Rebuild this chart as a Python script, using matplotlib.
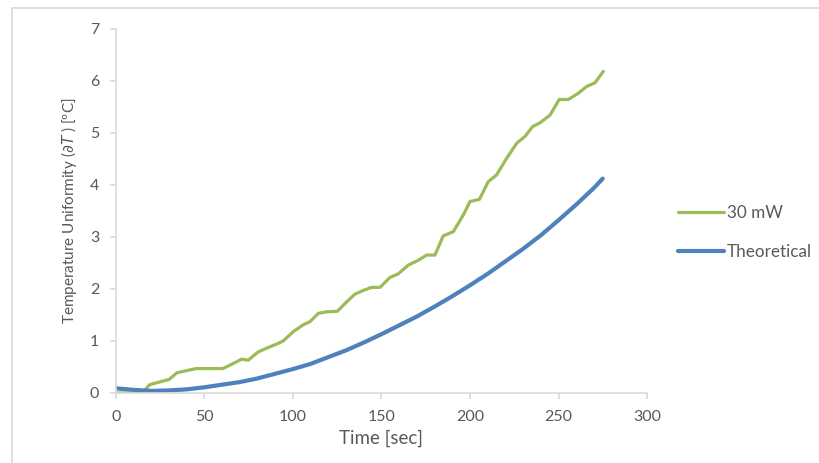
import matplotlib.pyplot as plt
from matplotlib.patches import Rectangle

### Data
time_30mw = [0, 15, 19, 30, 34.5, 40, 45.5, 60.5, 67, 71, 74.7, 80.4, 85, 90.8,
             94.5, 100.2, 105.8, 109.6, 114.3, 119, 125, 130.3, 135, 139.7, 144.4,
             149.2, 154.8, 159.5, 165.2, 170.8, 175.5, 180.2, 184.9, 190.6, 196.2,
             200, 205.3, 210.3, 215, 220.7, 226.4, 231.1, 235.4, 239.5, 245.2,
             250.4, 255.5, 261.2, 265.9, 270.6, 275.3]
dT_30mw = [0.0, 0.0, 0.16, 0.26, 0.39, 0.43, 0.47, 0.47, 0.58, 0.65, 0.63, 0.79,
           0.86, 0.94, 1.0, 1.18, 1.31, 1.37, 1.53, 1.56, 1.57, 1.75, 1.90, 1.97,
           2.03, 2.03, 2.22, 2.29, 2.46, 2.55, 2.65, 2.65, 3.02, 3.10, 3.42, 3.68,
           3.72, 4.06, 4.19, 4.51, 4.80, 4.93, 5.12, 5.19, 5.34, 5.64, 5.64, 5.76,
           5.89, 5.96, 6.18]

time_theo = [0, 10, 20, 30, 40, 50, 60, 70, 80, 90, 100, 110, 120, 130, 140, 150,
             160, 170, 180, 190, 200, 210, 220, 230, 240, 250, 260, 270, 275]
dT_theo = [0.09, 0.06, 0.04, 0.05, 0.07, 0.11, 0.16, 0.21, 0.28, 0.37, 0.46, 0.56,
           0.69, 0.82, 0.97, 1.13, 1.30, 1.47, 1.66, 1.86, 2.07, 2.29, 2.53, 2.77,
           3.03, 3.32, 3.62, 3.94, 4.12]

xticks = [0, 50, 100, 150, 200, 250, 300]
yticks = [0, 1, 2, 3, 4, 5, 6, 7]

grey_axis = '#d9d9d9'
grey_text = '#595959'

plt.rcParams['font.family'] = ['Lato', 'DejaVu Sans']

fig = plt.figure(figsize=(8.19, 4.63), dpi=100)
ax = fig.add_axes([0.1416, 0.1512, 0.6484, 0.7868])

### outer chart border (Excel style)
fig.patches.append(Rectangle((12 / 819, -0.05), 1.0, (463 - 8) / 463 + 0.05,
                             transform=fig.transFigure, fill=False,
                             edgecolor=grey_axis, linewidth=1.2))

ax.plot(time_30mw, dT_30mw, color='#9BBB59', linewidth=2.3, label='30 mW',
        solid_capstyle='round', solid_joinstyle='round')
ax.plot(time_theo, dT_theo, color='#4F81BD', linewidth=3.0, label='Theoretical',
        solid_capstyle='round', solid_joinstyle='round')

ax.set_xlim(0, 300)
ax.set_ylim(0, 7)
ax.set_xticks(xticks)
ax.set_yticks(yticks)

for s in ['top', 'right']:
    ax.spines[s].set_visible(False)
for s in ['left', 'bottom']:
    ax.spines[s].set_color(grey_axis)
    ax.spines[s].set_linewidth(1.2)
ax.tick_params(colors=grey_axis, labelcolor=grey_text, labelsize=11.5,
               length=4, width=1.2)
ax.tick_params(axis='x', pad=8)
ax.tick_params(axis='y', pad=8)

ax.set_xlabel('Time [sec]', color=grey_text, fontsize=13.5, labelpad=4)
ax.set_ylabel(r'Temperature Uniformity ($\partial T$ ) [ºC]', color=grey_text,
              fontsize=11, labelpad=8)

leg = ax.legend(loc='center left', bbox_to_anchor=(1.03, 0.44), frameon=False,
                fontsize=12.3, handlelength=2.7, handletextpad=0.15,
                labelspacing=1.35)
for t in leg.get_texts():
    t.set_color(grey_text)

fig.savefig('out.png', dpi=100)
